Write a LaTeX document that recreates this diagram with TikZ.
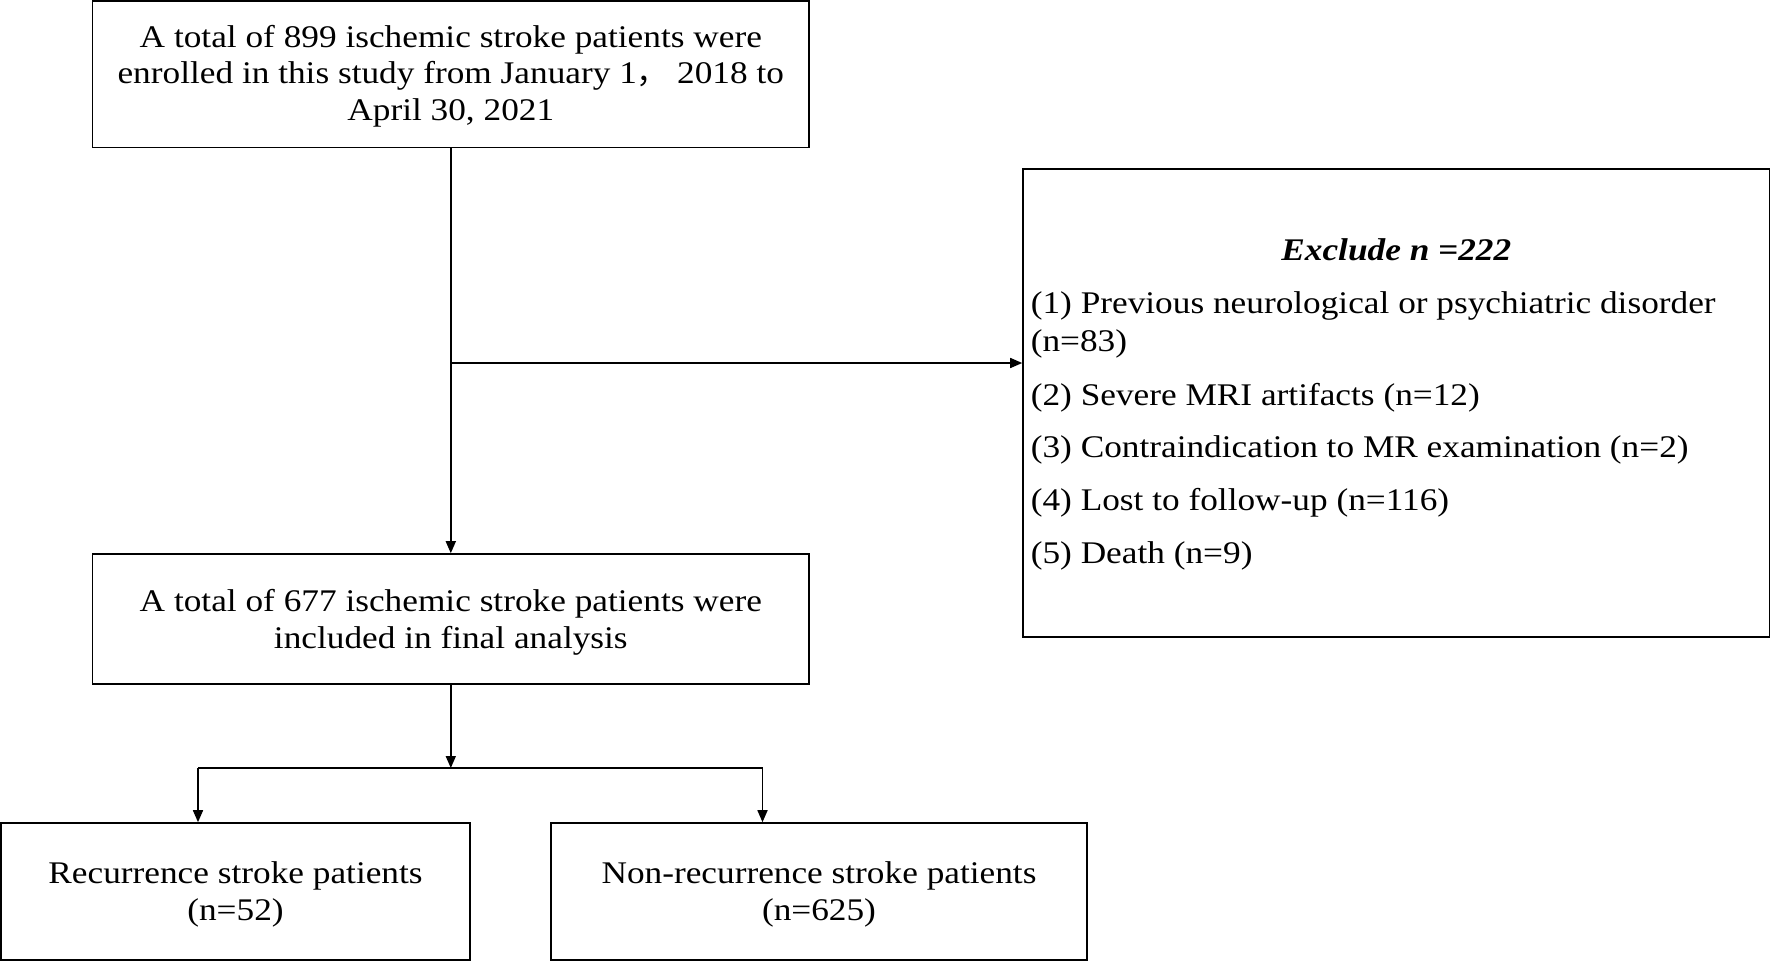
\documentclass[tikz,border=0pt]{standalone}
\usepackage{fontspec}
\setmainfont{Liberation Serif}[FakeStretch=1.12]
\newfontfamily\cjkfont{Noto Sans CJK SC}
\usetikzlibrary{arrows.meta}
\newcommand{\mainfs}{\fontsize{31.5}{36.7}\selectfont}
\begin{document}
\begin{tikzpicture}[x=1pt,y=-1pt,line width=1.6pt,
  box/.style={draw, rectangle, inner sep=0pt},
  txt/.style={inner sep=0pt, align=center, font=\mainfs},
  item/.style={anchor=base west, inner sep=0pt, font=\mainfs},
  arr/.style={-{Triangle[length=12pt,width=10pt]}}]
\useasboundingbox (0,0) rectangle (1772,962);
\fill[white] (0,0) rectangle (1772,962);
% boxes
\node[box, minimum width=716.4pt, minimum height=146.5pt] (b1) at (450.8,74.2) {};
\node[box, minimum width=746.6pt, minimum height=467.7pt] (excl) at (1396.3,402.9) {};
\node[box, minimum width=716.4pt, minimum height=130pt] (b2) at (450.8,619) {};
\node[box, minimum width=469pt, minimum height=137pt] (b3) at (235.5,891.5) {};
\node[box, minimum width=536pt, minimum height=137pt] (b4) at (819,891.5) {};
% box texts
\node[txt, yshift=-1.8pt] (b1t) at (b1.center)
  {A total of 899 ischemic stroke patients were\\
   enrolled in this study from January 1{\cjkfont ，}\ 2018 to\\
   April 30, 2021};
\node[txt, yshift=-3.5pt] (b2t) at (b2.center)
  {A total of 677 ischemic stroke patients were\\ included in final analysis};
\node[txt, yshift=-3pt] (b3t) at (b3.center)
  {Recurrence stroke patients\\ (n=52)};
\node[txt, yshift=-3pt] (b4t) at (b4.center)
  {Non-recurrence stroke patients\\ (n=625)};
% exclusion text
\node[anchor=base, inner sep=0pt, font=\mainfs\bfseries\itshape] (t0) at (1396.3,260) {Exclude n =222};
\node[item] (t1) at (1030,313) {(1) Previous neurological or psychiatric disorder};
\node[item] (t1b) at (1030,351) {(n=83)};
\node[item] (t2) at (1030,405) {(2) Severe MRI artifacts (n=12)};
\node[item] (t3) at (1030,457.5) {(3) Contraindication to MR examination (n=2)};
\node[item] (t4) at (1030,510.5) {(4) Lost to follow-up (n=116)};
\node[item] (t5) at (1030,563.5) {(5) Death (n=9)};
% connectors
\draw[arr] (b1.south) -- (b2.north);
\coordinate (j1) at (450.8,363);
\draw[arr] (j1) -- (j1 -| excl.west);
\coordinate (j2) at (450.8,768);
\draw[arr] (b2.south) -- (j2);
\coordinate (bl) at (198,768);
\coordinate (br) at (762.5,768);
\draw (bl) -- (br);
\draw[arr] (bl) -- (bl |- b3.north);
\draw[arr] (br) -- (br |- b4.north);
\end{tikzpicture}
\end{document}
